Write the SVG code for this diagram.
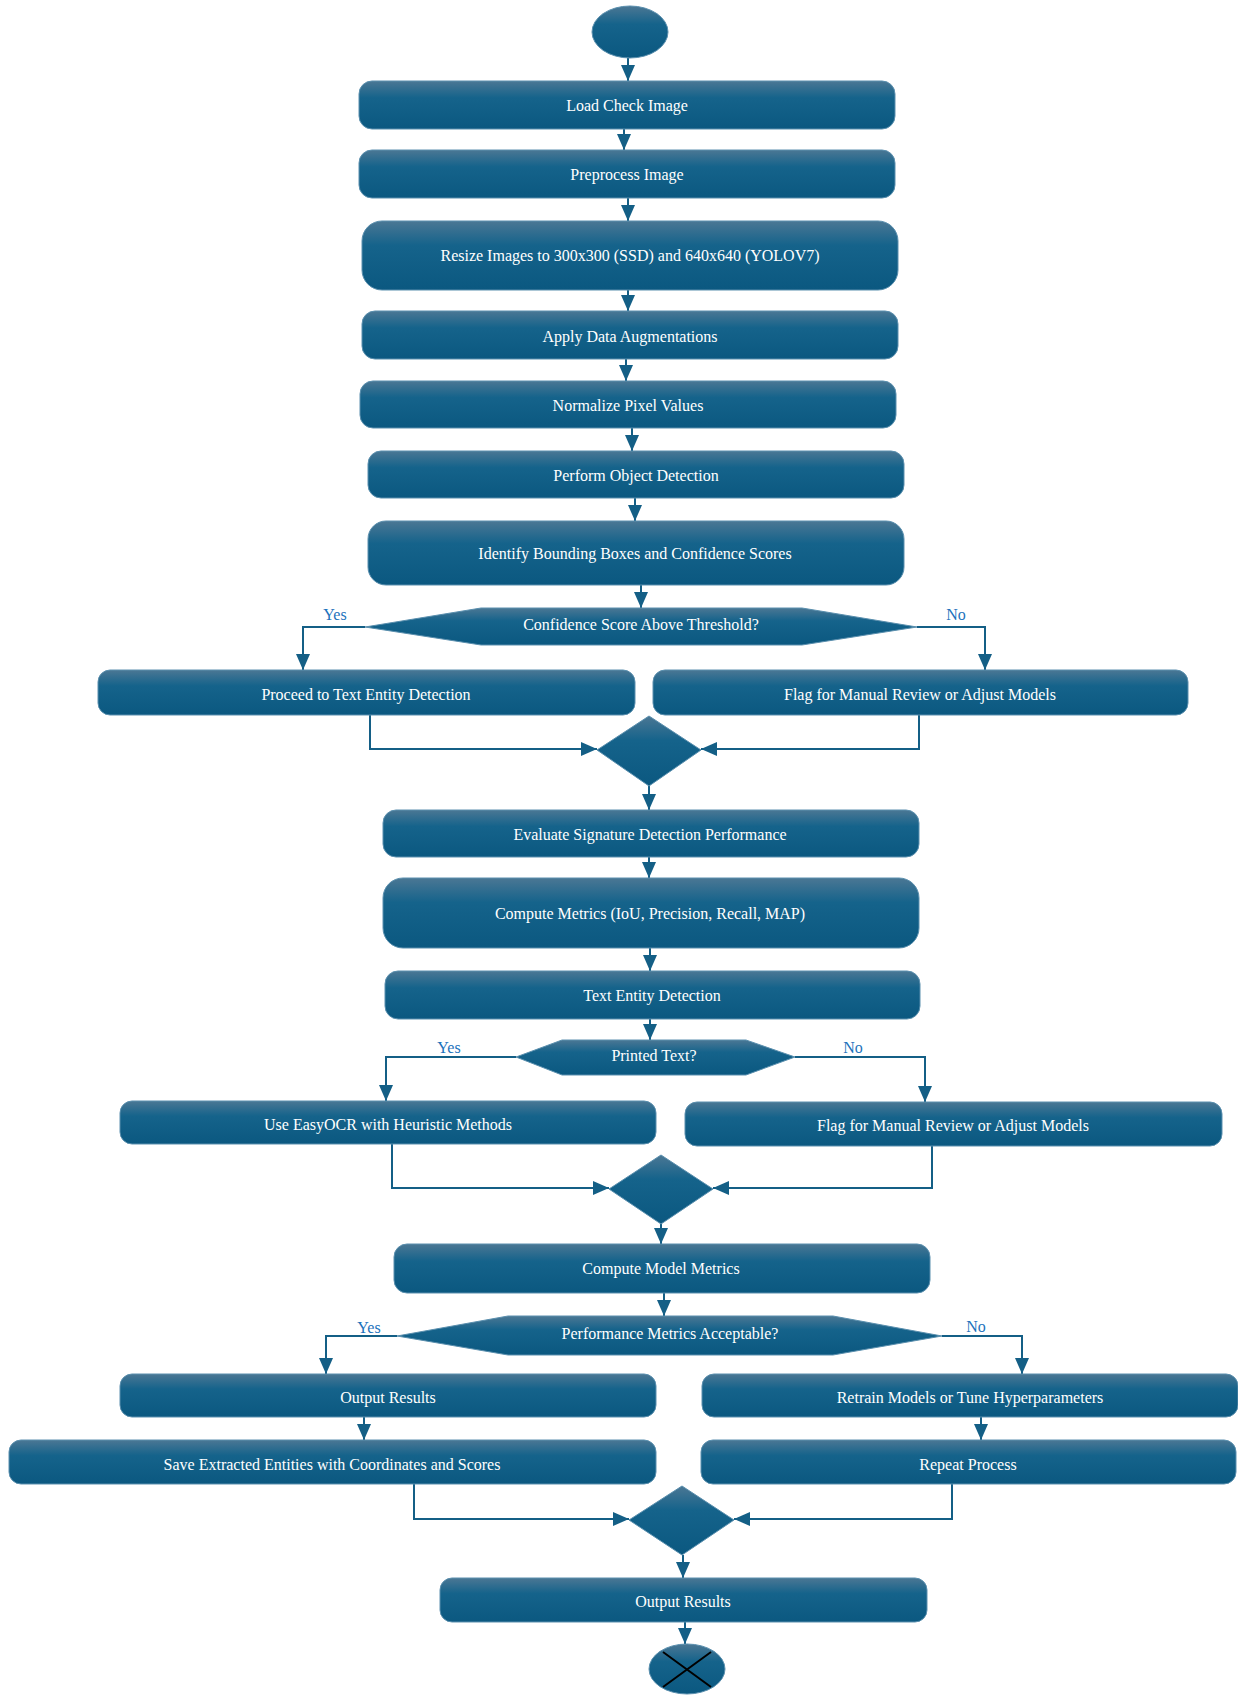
<svg xmlns="http://www.w3.org/2000/svg" width="1238" height="1695" viewBox="0 0 1238 1695">
<defs>
<linearGradient id="g" x1="0" y1="0" x2="0" y2="1">
<stop offset="0" stop-color="#4b7794"/>
<stop offset="0.35" stop-color="#15638b"/>
<stop offset="1" stop-color="#0b5880"/>
</linearGradient>
<marker id="ah" viewBox="0 0 16 14" refX="16" refY="7" markerWidth="16" markerHeight="14" markerUnits="userSpaceOnUse" orient="auto">
<path d="M0,0 L16,7 L0,14 z" fill="#145f86"/>
</marker>
<style>
.n{fill:url(#g);stroke:#5a8fae;stroke-width:1}
.t{font-family:"Liberation Serif","Times New Roman",serif;font-size:16px;fill:#ffffff;text-anchor:middle}
.l{font-family:"Liberation Serif","Times New Roman",serif;font-size:16px;fill:#1c72bc;text-anchor:middle}
.c{fill:none;stroke:#145f86;stroke-width:2;marker-end:url(#ah)}
</style>
</defs>
<rect width="1238" height="1695" fill="#ffffff"/>

<g id="connectors">
<path class="c" d="M628,58 L628,81"/>
<path class="c" d="M624,129 L624,150"/>
<path class="c" d="M628,198 L628,221"/>
<path class="c" d="M628,290 L628,311"/>
<path class="c" d="M626,359 L626,381"/>
<path class="c" d="M632,428 L632,451"/>
<path class="c" d="M635,498 L635,521"/>
<path class="c" d="M641,585 L641,608"/>
<path class="c" d="M365,627 L303,627 L303,670"/>
<path class="c" d="M917,627 L985,627 L985,670"/>
<path class="c" d="M370,715 L370,749 L597,749"/>
<path class="c" d="M919,715 L919,749 L701,749"/>
<path class="c" d="M649,784 L649,810"/>
<path class="c" d="M649,857 L649,878"/>
<path class="c" d="M650,948 L650,971"/>
<path class="c" d="M650,1019 L650,1040"/>
<path class="c" d="M516,1057 L386,1057 L386,1101"/>
<path class="c" d="M795,1057 L925,1057 L925,1102"/>
<path class="c" d="M392,1144 L392,1188 L609,1188"/>
<path class="c" d="M932,1146 L932,1188 L713,1188"/>
<path class="c" d="M661,1224 L661,1244"/>
<path class="c" d="M664,1293 L664,1316"/>
<path class="c" d="M397,1336 L326,1336 L326,1374"/>
<path class="c" d="M942,1336 L1022,1336 L1022,1374"/>
<path class="c" d="M364,1417 L364,1440"/>
<path class="c" d="M981,1417 L981,1440"/>
<path class="c" d="M414,1484 L414,1519 L629,1519"/>
<path class="c" d="M952,1484 L952,1519 L734,1519"/>
<path class="c" d="M683,1555 L683,1578"/>
<path class="c" d="M685,1622 L685,1644"/>
<text class="l" x="335" y="620">Yes</text>
<text class="l" x="956" y="620">No</text>
<text class="l" x="449" y="1053">Yes</text>
<text class="l" x="853" y="1053">No</text>
<text class="l" x="369" y="1333">Yes</text>
<text class="l" x="976" y="1332">No</text>
</g>

<g id="start"><ellipse class="n" cx="630" cy="32" rx="38" ry="26"/></g>
<g id="load"><rect class="n" x="359" y="81" width="536" height="48" rx="13"/><text class="t" x="627" y="111">Load Check Image</text></g>
<g id="preprocess"><rect class="n" x="359" y="150" width="536" height="48" rx="13"/><text class="t" x="627" y="180">Preprocess Image</text></g>
<g id="resize"><rect class="n" x="362" y="221" width="536" height="69" rx="20"/><text class="t" x="630" y="261">Resize Images to 300x300 (SSD) and 640x640 (YOLOV7)</text></g>
<g id="augment"><rect class="n" x="362" y="311" width="536" height="48" rx="13"/><text class="t" x="630" y="342">Apply Data Augmentations</text></g>
<g id="normalize"><rect class="n" x="360" y="381" width="536" height="47" rx="13"/><text class="t" x="628" y="411">Normalize Pixel Values</text></g>
<g id="detect"><rect class="n" x="368" y="451" width="536" height="47" rx="13"/><text class="t" x="636" y="481">Perform Object Detection</text></g>
<g id="identify"><rect class="n" x="368" y="521" width="536" height="64" rx="18"/><text class="t" x="635" y="559">Identify Bounding Boxes and Confidence Scores</text></g>
<g id="decision1"><polygon class="n" points="365,627 481,608 802,608 917,627 802,645 481,645"/><text class="t" x="641" y="630">Confidence Score Above Threshold?</text></g>
<g id="proceed"><rect class="n" x="98" y="670" width="537" height="45" rx="12"/><text class="t" x="366" y="700">Proceed to Text Entity Detection</text></g>
<g id="flag1"><rect class="n" x="653" y="670" width="535" height="45" rx="12"/><text class="t" x="920" y="700">Flag for Manual Review or Adjust Models</text></g>
<g id="merge1"><polygon class="n" points="649,716 701,750 649,786 597,750"/></g>
<g id="evaluate"><rect class="n" x="383" y="810" width="536" height="47" rx="13"/><text class="t" x="650" y="840">Evaluate Signature Detection Performance</text></g>
<g id="metrics"><rect class="n" x="383" y="878" width="536" height="70" rx="20"/><text class="t" x="650" y="919">Compute Metrics (IoU, Precision, Recall, MAP)</text></g>
<g id="textentity"><rect class="n" x="385" y="971" width="535" height="48" rx="13"/><text class="t" x="652" y="1001">Text Entity Detection</text></g>
<g id="decision2"><polygon class="n" points="516,1057 562,1040 746,1040 795,1057 746,1075 562,1075"/><text class="t" x="654" y="1061">Printed Text?</text></g>
<g id="easyocr"><rect class="n" x="120" y="1101" width="536" height="43" rx="12"/><text class="t" x="388" y="1130">Use EasyOCR with Heuristic Methods</text></g>
<g id="flag2"><rect class="n" x="685" y="1102" width="537" height="44" rx="12"/><text class="t" x="953" y="1131">Flag for Manual Review or Adjust Models</text></g>
<g id="merge2"><polygon class="n" points="661,1155 713,1189 661,1224 609,1189"/></g>
<g id="modelmetrics"><rect class="n" x="394" y="1244" width="536" height="49" rx="13"/><text class="t" x="661" y="1274">Compute Model Metrics</text></g>
<g id="decision3"><polygon class="n" points="397,1336 508,1316 833,1316 942,1336 833,1355 508,1355"/><text class="t" x="670" y="1339">Performance Metrics Acceptable?</text></g>
<g id="output1"><rect class="n" x="120" y="1374" width="536" height="43" rx="12"/><text class="t" x="388" y="1403">Output Results</text></g>
<g id="retrain"><rect class="n" x="702" y="1374" width="536" height="43" rx="12"/><text class="t" x="970" y="1403">Retrain Models or Tune Hyperparameters</text></g>
<g id="save"><rect class="n" x="9" y="1440" width="647" height="44" rx="12"/><text class="t" x="332" y="1470">Save Extracted Entities with Coordinates and Scores</text></g>
<g id="repeat"><rect class="n" x="701" y="1440" width="535" height="44" rx="12"/><text class="t" x="968" y="1470">Repeat Process</text></g>
<g id="merge3"><polygon class="n" points="682,1486 734,1520 682,1555 629,1520"/></g>
<g id="output2"><rect class="n" x="440" y="1578" width="487" height="44" rx="12"/><text class="t" x="683" y="1607">Output Results</text></g>
<g id="end"><ellipse class="n" cx="687" cy="1669" rx="38" ry="25"/><path d="M663,1652 L711,1687 M711,1652 L663,1687" stroke="#000000" stroke-width="2" fill="none"/></g>
</svg>
